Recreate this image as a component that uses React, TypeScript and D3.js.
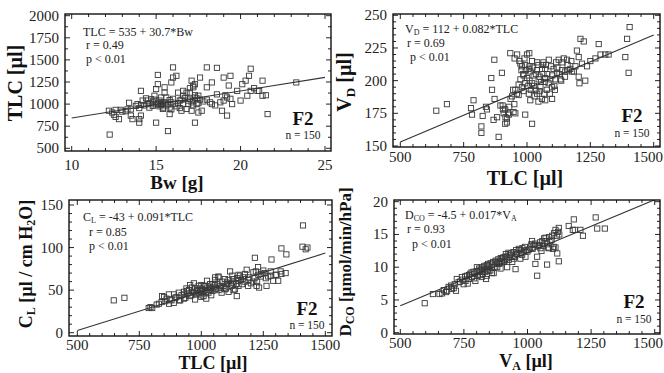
import React from "react";
import * as d3 from "d3";

// ---------- DATA ----------
// Panel 1: Bw [g] vs TLC [µl]
const bwTlcPoints: [number, number][] = [
  [12.25, 655], [12.2, 925], [12.4, 905], [12.6, 935], [12.6, 855], [12.8, 830], [12.9, 935], [13.3, 940],
  [13.4, 1015], [13.5, 940], [13.5, 870], [13.6, 830], [14.0, 955], [13.9, 1000], [14.0, 790], [14.0, 830],
  [14.1, 870], [14.1, 1150], [14.2, 1040], [14.5, 1040], [14.5, 1000], [14.6, 960], [14.7, 1055], [14.8, 1020],
  [14.9, 1095], [15.0, 1170], [15.1, 1330], [15.1, 1225], [15.1, 1000], [15.2, 1040], [15.3, 1020], [15.0, 790],
  [15.3, 1000], [15.4, 960], [15.3, 1075], [15.6, 1075], [15.5, 1130], [15.5, 1190], [15.7, 695], [15.8, 887],
  [15.8, 960], [15.9, 1020], [15.9, 1245], [16.0, 1415], [16.0, 1300], [16.2, 1320], [16.3, 1130], [16.4, 1040],
  [16.6, 1095], [16.6, 1000], [16.5, 925], [16.8, 1130], [17.0, 1130], [16.9, 1040], [17.1, 1265], [17.2, 1190],
  [17.3, 1225], [17.2, 1040], [17.3, 1075], [17.1, 925], [17.3, 790], [17.5, 905], [17.4, 1000], [17.5, 1095],
  [17.7, 925], [17.6, 1300], [18.0, 1415], [18.0, 1190], [18.2, 1020], [18.3, 1000], [18.6, 1410], [18.3, 1245],
  [18.6, 1110], [18.8, 1020], [18.9, 925], [19.0, 1040], [19.2, 870], [19.2, 1075], [19.3, 1210], [19.0, 1300],
  [19.4, 1320], [19.5, 1000], [19.8, 1150], [20.0, 1040], [20.1, 1225], [20.3, 1265], [20.5, 1320], [20.6, 1400],
  [20.4, 1095], [20.6, 1150], [21.0, 1150], [21.1, 1150], [21.3, 1265], [21.3, 1095], [21.6, 887], [23.3, 1245],
  [14.3, 985], [14.6, 1010], [14.8, 980], [15.0, 995], [15.1, 1015], [15.2, 975], [15.3, 990], [15.4, 1005],
  [15.5, 1020], [15.6, 985], [15.7, 1000], [15.8, 1045], [16.0, 1060], [16.1, 1000], [16.2, 975], [16.3, 1010],
  [16.5, 1050], [16.7, 1070], [16.9, 1000], [17.0, 1060], [17.1, 1020], [17.2, 985], [17.3, 1100], [17.4, 1065],
  [17.5, 1010], [17.6, 1050], [17.8, 1030], [16.4, 955], [16.8, 945], [15.9, 940], [15.4, 945], [14.9, 1050],
  [14.4, 1065], [14.1, 990], [13.8, 980], [13.2, 920], [12.5, 880], [13.0, 915], [16.6, 1150], [17.0, 1180],
  [17.2, 1210], [18.0, 1050], [18.5, 985], [19.1, 1100], [19.4, 1060], [20.8, 1180], [21.5, 1100],
];

// Panel 2: TLC [µl] vs VD [µl]
const tlcVdPoints: [number, number][] = [
  [642, 177], [684, 182], [779, 179], [783, 174], [789, 185], [825, 173], [820, 165], [820, 160], [838, 180],
  [842, 178], [862, 193], [859, 202], [871, 216], [872, 186], [868, 170], [882, 172], [888, 157], [895, 181],
  [901, 206], [904, 181], [908, 175], [914, 178], [921, 171], [914, 167], [921, 168], [928, 174], [934, 221],
  [941, 188], [947, 176], [954, 175], [951, 217], [961, 220], [954, 193], [967, 197], [967, 189], [974, 201],
  [978, 208], [974, 213], [980, 211], [987, 204], [993, 212], [987, 192], [993, 198], [993, 174], [1007, 209],
  [1013, 207], [1020, 198], [1007, 190], [1009, 221], [1013, 185], [1026, 204], [1033, 193], [1020, 167],
  [1039, 208], [1046, 201], [1053, 195], [1059, 209], [1059, 186], [1072, 209], [1072, 202], [1078, 193],
  [1072, 185], [1086, 216], [1092, 201], [1099, 195], [1099, 186], [1105, 209], [1112, 201], [1118, 206],
  [1125, 216], [1132, 201], [1138, 208], [1145, 217], [1151, 207], [1158, 216], [1164, 208], [1171, 209],
  [1178, 207], [1191, 211], [1197, 223], [1204, 218], [1204, 203], [1207, 198], [1211, 232], [1217, 213],
  [1224, 230], [1230, 200], [1237, 211], [1250, 215], [1270, 217], [1283, 228], [1290, 220], [1309, 220],
  [1322, 220], [1388, 218], [1395, 232], [1405, 241], [1401, 206],
  [985, 205], [995, 208], [1000, 202], [1005, 196], [1010, 211], [1015, 193], [1022, 210], [1028, 196],
  [1035, 205], [1040, 190], [1045, 212], [1050, 203], [1055, 199], [1062, 212], [1065, 205], [1068, 190],
  [1075, 212], [1080, 205], [1085, 198], [1095, 211], [1100, 204], [1108, 196], [1115, 214], [1120, 210],
  [1128, 205], [1140, 214], [1150, 203], [1160, 212], [1175, 215], [1185, 207], [960, 190], [945, 193],
  [935, 186], [925, 175], [915, 172], [905, 178], [970, 215], [990, 217], [1000, 220], [1020, 215],
  [1040, 214], [1065, 214], [980, 195], [1010, 200], [1030, 188], [1050, 192], [1090, 190], [1110, 193],
  [930, 180], [950, 182], [1045, 184], [1070, 199], [1135, 200],
];

// Panel 3: TLC [µl] vs CL [µl / cm H2O]
const tlcClPoints: [number, number][] = [
  [647, 38], [690, 41], [788, 29], [795, 30], [802, 29], [829, 34], [842, 43], [855, 37], [869, 45], [875, 39],
  [889, 35], [895, 41], [909, 47], [915, 38], [929, 45], [936, 41], [942, 49], [955, 43], [962, 53], [969, 47],
  [975, 39], [982, 49], [989, 55], [996, 45], [1003, 51], [1009, 43], [1016, 55], [1023, 61], [1029, 47],
  [1036, 53], [1049, 57], [1056, 51], [1056, 65], [1069, 66], [1076, 55], [1082, 47], [1096, 51], [1103, 59],
  [1116, 72], [1123, 55], [1129, 63], [1136, 51], [1143, 43], [1149, 61], [1156, 67], [1170, 65], [1176, 69],
  [1183, 74], [1189, 55], [1210, 71], [1216, 88], [1223, 55], [1229, 77], [1233, 53], [1243, 69], [1250, 73],
  [1263, 55], [1279, 67], [1283, 86], [1303, 68], [1310, 61], [1323, 99], [1343, 92], [1323, 69], [1410, 126],
  [1408, 101], [1421, 98], [1428, 100],
  [880, 38], [900, 42], [920, 44], [930, 40], [945, 46], [950, 50], [960, 44], [965, 48], [975, 52], [980, 45],
  [985, 50], [990, 47], [995, 52], [1000, 49], [1005, 47], [1010, 55], [1015, 50], [1020, 48], [1025, 53],
  [1030, 50], [1035, 57], [1040, 52], [1045, 49], [1050, 54], [1060, 52], [1065, 57], [1070, 50], [1080, 53],
  [1085, 60], [1090, 55], [1100, 52], [1105, 57], [1110, 62], [1120, 58], [1130, 59], [1140, 57], [1150, 55],
  [1160, 62], [1165, 57], [1175, 60], [1190, 62], [1200, 58], [1215, 64], [1220, 72], [1225, 60], [1240, 66],
  [1255, 70], [1270, 66], [1290, 61], [1300, 68], [1230, 68], [1190, 65], [860, 40], [840, 36], [820, 33],
  [870, 34], [890, 45], [910, 38], [940, 52], [1000, 56], [1055, 62], [1095, 63], [1125, 67], [1145, 64],
  [1210, 60], [1280, 72], [1320, 72], [1340, 70], [1260, 64], [1110, 48], [1040, 44], [970, 58], [955, 56],
  [1130, 50], [1150, 68], [1070, 65], [1000, 42], [1020, 40], [930, 48], [850, 42],
];

// Panel 4: VA [µl] vs DCO [µmol/min/hPa]
const vaDcoPoints: [number, number][] = [
  [596, 4.5], [628, 5.9], [654, 5.9], [664, 6.0], [671, 6.5], [684, 6.4], [690, 7.0], [703, 6.7], [714, 7.4],
  [719, 6.4], [722, 8.2], [729, 7.7], [742, 8.5], [749, 7.4], [756, 7.9], [762, 8.7], [769, 8.2], [775, 9.0],
  [782, 8.5], [788, 9.3], [795, 7.9], [801, 10.0], [808, 9.3], [814, 8.8], [821, 9.5], [827, 9.8], [834, 9.3],
  [837, 8.2], [845, 10.5], [854, 9.5], [861, 10.0], [867, 9.1], [874, 10.8], [881, 10.0], [887, 10.5],
  [894, 9.8], [900, 11.3], [907, 10.8], [913, 11.6], [920, 10.0], [926, 11.1], [933, 11.9], [940, 10.8],
  [946, 11.3], [953, 9.7], [959, 12.1], [966, 12.8], [972, 11.3], [979, 11.9], [985, 12.4], [992, 11.6],
  [1005, 12.7], [1018, 14.0], [1024, 13.4], [1031, 10.5], [1038, 11.6], [1038, 8.7], [1045, 13.4], [1051, 12.9],
  [1058, 14.0], [1071, 14.5], [1077, 13.5], [1077, 10.4], [1084, 12.9], [1090, 14.0], [1097, 14.8], [1103, 13.1],
  [1110, 15.7], [1117, 12.1], [1123, 16.0], [1123, 10.9], [1162, 16.3], [1182, 17.3], [1178, 15.7], [1186, 15.7],
  [1208, 15.7], [1218, 14.8], [1268, 17.6], [1274, 15.9], [1304, 15.9],
  [770, 8.8], [780, 9.2], [790, 9.0], [800, 9.4], [805, 8.7], [810, 9.8], [815, 9.6], [820, 10.0], [825, 9.0],
  [830, 10.2], [835, 9.7], [840, 10.3], [845, 9.5], [850, 10.1], [855, 10.6], [860, 10.4], [865, 10.8],
  [870, 10.0], [875, 11.0], [880, 10.6], [885, 11.2], [890, 10.9], [895, 11.4], [900, 10.7], [905, 11.5],
  [910, 11.0], [915, 12.0], [920, 11.6], [925, 12.2], [930, 11.8], [935, 12.1], [945, 12.3], [950, 11.6],
  [955, 12.6], [960, 12.0], [970, 12.6], [975, 12.2], [980, 12.9], [990, 13.1], [995, 12.6], [1000, 12.4],
  [1010, 13.0], [1015, 13.5], [1020, 12.8], [1030, 13.6], [1040, 13.2], [1050, 13.8], [1060, 13.3], [1065, 14.4],
  [1075, 14.0], [1085, 14.6], [1095, 14.2], [1105, 15.2], [1115, 14.8], [1120, 15.4], [1125, 15.0], [1110, 13.0],
  [1100, 12.8], [1080, 13.0], [1055, 12.5], [735, 7.8], [745, 8.1], [755, 8.6], [765, 7.5], [700, 7.2],
  [710, 6.8], [680, 6.2], [790, 8.3], [820, 8.5], [840, 8.7], [860, 9.1],
];

// Axis ticks
const bwTicks = [10, 15, 20, 25];
const tlcYTicks = [500, 750, 1000, 1250, 1500, 1750, 2000];
const tlcXTicks = [500, 750, 1000, 1250, 1500];
const vdTicks = [150, 175, 200, 225, 250];
const clTicks = [0, 50, 100, 150];
const dcoTicks = [0, 5, 10, 15, 20];
const vaTicks = [500, 750, 1000, 1250, 1500];

// Regression lines (intercept, slope) as drawn
const fitIntercepts = [535, 112, -43, -4.0];
const fitSlopes = [30.7, 0.082, 0.091, 0.0162];

const groupLabel = "F2";
const sampleLabel = "n = 150";

// ---------- LAYOUT ----------
const FONT = "Liberation Serif, Times New Roman, Times, serif";
const INK = "#222";
const W = 664;

type Cfg = {
  points: [number, number][];
  xDomain: [number, number];
  yDomain: [number, number];
  xRange: [number, number];
  yRange: [number, number];
  box: [number, number, number, number];
  xTicks: number[];
  yTicks: number[];
  xMinor: number;
  yMinor: number;
  fit: number;
  xTitleX: number;
  xTitleY: number;
  yTitleX: number;
  yTitleY: number;
  xLabelY: number;
  labelCx: number;
  f2Y: number;
  nY: number;
  xTitle: React.ReactNode;
  yTitle: React.ReactNode;
  yTitleSize: number;
  xTitleSize: number;
  annot: React.ReactNode;
};

const sub = (s: string, size = 9, shift = "-28%") => (
  <tspan baselineShift={shift} fontSize={size} style={{ fontSize: size }}>{s}</tspan>
);

const txt = (size: number, bold = false): React.CSSProperties => ({
  fontFamily: FONT,
  fontSize: size,
  fontWeight: bold ? "bold" : "normal",
});

function Panel({ c }: { c: Cfg }) {
  const x = d3.scaleLinear().domain(c.xDomain).range(c.xRange);
  const y = d3.scaleLinear().domain(c.yDomain).range(c.yRange);
  const [bx0, by0, bx1, by1] = c.box;
  const xMinorTicks = d3.range(c.xDomain[0], c.xDomain[1] + 1e-9, c.xMinor).filter((v) => !c.xTicks.includes(+v.toFixed(6)));
  const yMinorTicks = d3.range(c.yDomain[0], c.yDomain[1] + 1e-9, c.yMinor).filter((v) => !c.yTicks.includes(+v.toFixed(6)));
  const a = fitIntercepts[c.fit];
  const b = fitSlopes[c.fit];
  const lineGen = d3.line<number>().x((v) => x(v)).y((v) => y(a + b * v));
  const lineXs = [c.xDomain[0], c.xDomain[1]];
  const clipId = `clip${c.fit}`;
  const MAJ = 5, MIN = 3;
  const labelX = (t: number) => {
    const half = String(t).length * 3.75;
    return Math.min(x(t), W - 1 - half);
  };
  return (
    <g>
      <defs>
        <clipPath id={clipId}>
          <rect x={bx0} y={by0} width={bx1 - bx0} height={by1 - by0} />
        </clipPath>
      </defs>
      <g stroke={INK} strokeWidth={1}>
        {c.xTicks.map((t) => (
          <g key={"xm" + t}>
            <line x1={x(t)} x2={x(t)} y1={by1} y2={by1 - MAJ} />
            <line x1={x(t)} x2={x(t)} y1={by0} y2={by0 + MAJ} />
          </g>
        ))}
        {xMinorTicks.map((t) => (
          <g key={"xn" + t}>
            <line x1={x(t)} x2={x(t)} y1={by1} y2={by1 - MIN} />
            <line x1={x(t)} x2={x(t)} y1={by0} y2={by0 + MIN} />
          </g>
        ))}
        {c.yTicks.map((t) => (
          <g key={"ym" + t}>
            <line x1={bx0} x2={bx0 + MAJ} y1={y(t)} y2={y(t)} />
            <line x1={bx1} x2={bx1 - MAJ} y1={y(t)} y2={y(t)} />
          </g>
        ))}
        {yMinorTicks.map((t) => (
          <g key={"yn" + t}>
            <line x1={bx0} x2={bx0 + MIN} y1={y(t)} y2={y(t)} />
            <line x1={bx1} x2={bx1 - MIN} y1={y(t)} y2={y(t)} />
          </g>
        ))}
      </g>
      <g clipPath={`url(#${clipId})`}>
        {c.points.map(([px, py], i) => (
          <rect
            key={i}
            x={x(px) - 2.6}
            y={y(py) - 2.6}
            width={5.2}
            height={5.2}
            fill="none"
            stroke="#3a3a3a"
            strokeWidth={0.9}
          />
        ))}
        <path d={lineGen(lineXs) || ""} fill="none" stroke="#333" strokeWidth={1.1} />
      </g>
      <rect x={bx0} y={by0} width={bx1 - bx0} height={by1 - by0} fill="none" stroke="#111" strokeWidth={1.4} />
      <g fill={INK}>
        {c.xTicks.map((t) => (
          <text key={"xl" + t} x={labelX(t)} y={c.xLabelY} textAnchor="middle" style={txt(15)}>{t}</text>
        ))}
        {c.yTicks.map((t) => (
          <text key={"yl" + t} x={bx0 - 6} y={y(t) + 5} textAnchor="end" style={txt(15)}>{t}</text>
        ))}
      </g>
      <text x={c.xTitleX} y={c.xTitleY} textAnchor="middle" style={txt(c.xTitleSize, true)} fill="#111">
        {c.xTitle}
      </text>
      <text
        transform={`translate(${c.yTitleX},${c.yTitleY}) rotate(-90)`}
        textAnchor="middle"
        style={txt(c.yTitleSize, true)}
        fill="#111"
      >
        {c.yTitle}
      </text>
      <g fill={INK} style={txt(12)}>{c.annot}</g>
      <text x={c.labelCx} y={c.f2Y} textAnchor="middle" style={txt(19, true)} fill="#111">
        {groupLabel}
      </text>
      <text x={c.labelCx} y={c.nY} textAnchor="middle" style={txt(11.5)} fill={INK}>
        {sampleLabel}
      </text>
    </g>
  );
}

const panels: Cfg[] = [
  {
    points: bwTlcPoints,
    xDomain: [10, 25], yDomain: [500, 2000],
    xRange: [71.7, 325], yRange: [148.3, 15.7],
    box: [65, 14, 331, 151],
    xTicks: bwTicks, yTicks: tlcYTicks, xMinor: 1, yMinor: 125, fit: 0,
    xTitleX: 177, xTitleY: 189, yTitleX: 22, yTitleY: 83, xLabelY: 170,
    labelCx: 303, f2Y: 125, nY: 139,
    xTitle: <>Bw [g]</>, yTitle: <>TLC [µl]</>, xTitleSize: 19, yTitleSize: 20,
    annot: (
      <>
        <text x={83} y={36}>TLC = 535 + 30.7*Bw</text>
        <text x={86} y={49}>r = 0.49</text>
        <text x={86} y={63}>p &lt; 0.01</text>
      </>
    ),
  },
  {
    points: tlcVdPoints,
    xDomain: [500, 1500], yDomain: [150, 250],
    xRange: [400.3, 653.7], yRange: [146, 15.3],
    box: [393, 14, 660, 147],
    xTicks: tlcXTicks, yTicks: vdTicks, xMinor: 50, yMinor: 5, fit: 1,
    xTitleX: 525, xTitleY: 185, yTitleX: 351, yTitleY: 82, xLabelY: 162,
    labelCx: 632, f2Y: 122, nY: 137,
    xTitle: <>TLC [µl]</>, yTitle: <>V{sub("D", 13)} [µl]</>, xTitleSize: 20, yTitleSize: 20,
    annot: (
      <>
        <text x={405} y={33}>V{sub("D", 8)} = 112 + 0.082*TLC</text>
        <text x={407} y={47}>r = 0.69</text>
        <text x={410} y={61}>p &lt; 0.01</text>
      </>
    ),
  },
  {
    points: tlcClPoints,
    xDomain: [500, 1500], yDomain: [0, 150],
    xRange: [77.3, 325.3], yRange: [332.7, 205],
    box: [69, 200, 332, 336],
    xTicks: tlcXTicks, yTicks: clTicks, xMinor: 50, yMinor: 10, fit: 2,
    xTitleX: 213, xTitleY: 369, yTitleX: 32, yTitleY: 264, xLabelY: 350,
    labelCx: 307, f2Y: 315, nY: 329,
    xTitle: <>TLC [µl]</>,
    yTitle: <>C{sub("L", 12)} [µl / cm H{sub("2", 12)}O]</>,
    xTitleSize: 18, yTitleSize: 18,
    annot: (
      <>
        <text x={83} y={221}>C{sub("L", 8)} = -43 + 0.091*TLC</text>
        <text x={89} y={236}>r = 0.85</text>
        <text x={89} y={250}>p &lt; 0.01</text>
      </>
    ),
  },
  {
    points: vaDcoPoints,
    xDomain: [500, 1500], yDomain: [0, 20],
    xRange: [400.3, 654.7], yRange: [332.7, 201.7],
    box: [394, 200, 660, 334],
    xTicks: vaTicks, yTicks: dcoTicks, xMinor: 50, yMinor: 1, fit: 3,
    xTitleX: 526, xTitleY: 367, yTitleX: 351, yTitleY: 262, xLabelY: 348,
    labelCx: 634, f2Y: 308, nY: 323,
    xTitle: <>V{sub("A", 12, "-22%")} [µl]</>,
    yTitle: <>D{sub("CO", 12)} [µmol/min/hPa]</>,
    xTitleSize: 18, yTitleSize: 17,
    annot: (
      <>
        <text x={405} y={219}>D{sub("CO", 8)} = -4.5 + 0.017*V{sub("A", 8)}</text>
        <text x={407} y={233}>r = 0.93</text>
        <text x={412} y={248}>p &lt; 0.01</text>
      </>
    ),
  },
];

export default function App() {
  return (
    <svg
      width={664}
      height={373}
      viewBox="0 0 664 373"
      style={{ position: "absolute", left: 0, top: 0, background: "#fff", fontFamily: FONT }}
    >
      <rect width={664} height={373} fill="#fff" />
      {panels.map((c, i) => (
        <Panel key={i} c={c} />
      ))}
    </svg>
  );
}
